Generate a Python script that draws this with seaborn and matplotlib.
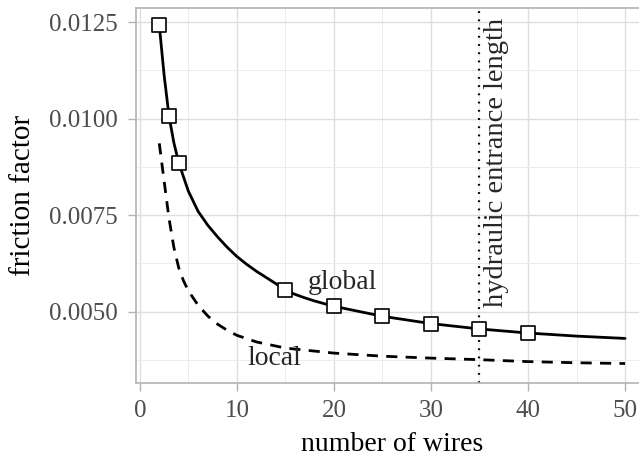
import matplotlib
matplotlib.use("Agg")
import matplotlib.pyplot as plt
from matplotlib.ticker import MultipleLocator, FormatStrFormatter
import seaborn as sns
import pandas as pd

# ---- data ----
global_x = [2, 2.5, 3, 3.5, 4, 5, 6, 7, 8, 9, 10, 11, 12, 13, 14, 15, 16, 17, 18, 19, 20,
            25, 30, 35, 40, 45, 50]
global_y = [0.01242, 0.01112, 0.01007, 0.00938, 0.00886, 0.00812, 0.00760, 0.00724,
            0.00694, 0.00667, 0.00643, 0.00623, 0.00605, 0.00589, 0.00573, 0.005557,
            0.00545, 0.00536, 0.00528, 0.00521, 0.005142, 0.004883, 0.004694,
            0.004555, 0.00445, 0.00437, 0.00431]

local_x = [2, 2.5, 3, 3.5, 4, 4.5, 5, 6, 7, 8, 9, 10, 12, 15, 20, 25, 30, 35, 40, 45, 50]
local_y = [0.00936, 0.00838, 0.00742, 0.00667, 0.00614, 0.00580, 0.00554, 0.00517,
           0.00489, 0.00468, 0.00452, 0.00439, 0.00422, 0.00406, 0.00393, 0.00385,
           0.00380, 0.00376, 0.00371, 0.00368, 0.00366]

marker_x = [2, 3, 4, 15, 20, 25, 30, 35, 40]
marker_y = [0.01242, 0.01007, 0.00886, 0.005557, 0.005142, 0.004883, 0.004694, 0.004555, 0.00445]

entrance_length = 35
x_ticks = [0, 10, 20, 30, 40, 50]
y_ticks = [0.0050, 0.0075, 0.0100, 0.0125]

df_global = pd.DataFrame({"wires": global_x, "f": global_y})
df_local = pd.DataFrame({"wires": local_x, "f": local_y})
df_mark = pd.DataFrame({"wires": marker_x, "f": marker_y})

sns.set_theme(style="whitegrid")
plt.rcParams["font.family"] = ["Liberation Serif", "DejaVu Serif"]

fig = plt.figure(figsize=(6.39, 4.58), dpi=100)
ax = fig.add_axes([136 / 639, 1 - 383 / 458, (648.3 - 136) / 639, (383 - 8) / 458])

sns.lineplot(data=df_global, x="wires", y="f", ax=ax, color="black", linewidth=2.0, zorder=3)
sns.lineplot(data=df_local, x="wires", y="f", ax=ax, color="black", linewidth=2.0,
             linestyle=(0, (4, 3)), zorder=3)
ax.axvline(entrance_length, color="black", linewidth=1.6, linestyle=(0, (0.8, 2.9)), zorder=2)
sns.scatterplot(data=df_mark, x="wires", y="f", ax=ax, marker="s", s=95,
                facecolor="white", edgecolor="black", linewidth=1.2, zorder=5)

ax.text(20.9, 0.00576, "global", fontsize=20, ha="center", va="center", zorder=6)
ax.text(13.9, 0.00380, "local", fontsize=20, ha="center", va="center", zorder=4)
ax.text(36.8, 0.00513, "hydraulic entrance length", fontsize=20.5, rotation=90,
        ha="center", va="bottom", zorder=6)

ax.set_xlim(-0.4, 52.4)
ax.set_ylim(0.003156, 0.012864)
ax.set_xticks(x_ticks)
ax.set_yticks(y_ticks)
ax.xaxis.set_minor_locator(MultipleLocator(5))
ax.yaxis.set_minor_locator(MultipleLocator(0.00125))
ax.yaxis.set_major_formatter(FormatStrFormatter("%.4f"))

ax.grid(which="major", color="#dedede", linewidth=1.0)
ax.grid(which="minor", color="#ececec", linewidth=0.7)
ax.set_axisbelow(True)
for sp in ax.spines.values():
    sp.set_color("#b3b3b3")
    sp.set_linewidth(1.2)

ax.tick_params(axis="both", which="major", length=5.8, width=1.0, color="#b3b3b3",
               labelsize=18, labelcolor="#4d4d4d", bottom=True, left=True)
ax.tick_params(axis="x", which="major", pad=6.5)
ax.tick_params(axis="y", which="major", pad=7)
ax.tick_params(which="minor", length=0)

ax.set_xlabel("number of wires", fontsize=20, color="black", labelpad=7)
ax.set_ylabel("friction factor", fontsize=21, color="black", labelpad=10)

fig.savefig("out.png", dpi=100)
